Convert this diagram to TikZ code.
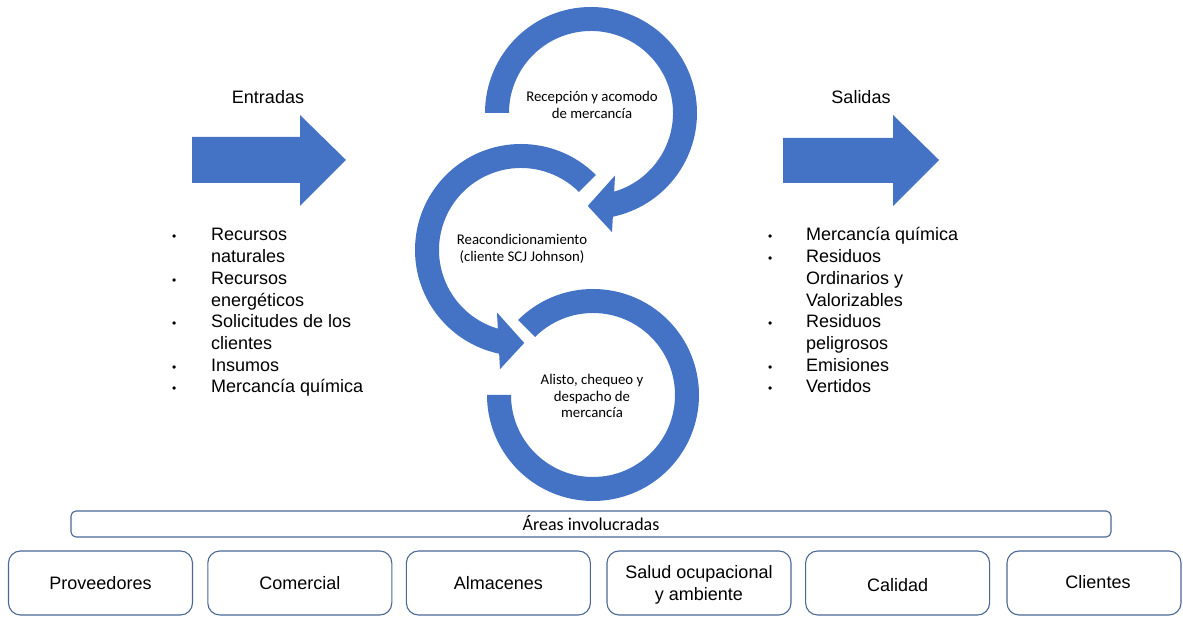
\documentclass[tikz,border=0pt]{standalone}
\usepackage{fontspec}
\usepackage{array}
\setmainfont{Liberation Sans}
\newfontfamily\calibrifont{Carlito}
\definecolor{flowblue}{HTML}{4472C4}
\definecolor{boxline}{HTML}{4A6894}
\newcommand{\listbullet}{{\fontsize{12}{12}\selectfont\textbullet}}

\tikzset{
  ring/.style={fill=flowblue},
  bigarrow/.style={fill=flowblue},
  heading/.style={font=\fontsize{18}{21.7}\selectfont, inner sep=0pt, anchor=base},
  listnode/.style={font=\fontsize{18}{21.7}\selectfont, inner sep=0pt, anchor=base west},
  steptext/.style={font=\calibrifont\fontsize{14.8}{16.5}\selectfont, align=center, inner sep=0pt},
  areabox/.style={draw=boxline, line width=1.1pt, rounded corners=5pt},
  deptbox/.style={draw=boxline, line width=1.1pt, rounded corners=12pt,
    minimum height=64pt, align=center, inner sep=0pt,
    font=\fontsize{18}{21.7}\selectfont},
  depttext/.style={align=center, inner sep=0pt, font=\fontsize{18}{21.7}\selectfont},
}

\begin{document}
\begin{tikzpicture}[x=1pt, y=1pt]
  \useasboundingbox (0,0) rectangle (1183,617);
  \fill[white] (0,0) rectangle (1183,617);

  % input and output block arrows
  \fill[bigarrow] (192,480) -- (300,480) -- (300,502) -- (346,457)
    -- (300,411) -- (300,434) -- (192,434) -- cycle;
  \fill[bigarrow] (783,479) -- (893,479) -- (893,502) -- (939,457)
    -- (893,411) -- (893,434) -- (783,434) -- cycle;

  \node[heading] (entradas) at (268,513) {Entradas};
  \node[heading] (salidas) at (861,513) {Salidas};

  \node[listnode] (inlist) at (172,376) {%
    \begin{tabular}[t]{@{}p{39pt}@{}l@{}}
      \listbullet & Recursos\\
                  & naturales\\
      \listbullet & Recursos\\
                  & energéticos\\
      \listbullet & Solicitudes de los\\
                  & clientes\\
      \listbullet & Insumos\\
      \listbullet & Mercancía química
    \end{tabular}};

  \node[listnode] (outlist) at (768,376) {%
    \begin{tabular}[t]{@{}p{38pt}@{}l@{}}
      \listbullet & Mercancía química\\
      \listbullet & Residuos\\
                  & Ordinarios y\\
                  & Valorizables\\
      \listbullet & Residuos\\
                  & peligrosos\\
      \listbullet & Emisiones\\
      \listbullet & Vertidos
    \end{tabular}};

  % circular process arrows
  \begin{scope}[shift={(591,504)}]
    \fill[ring] (180:106) arc[start angle=180, end angle=-78.1, radius=106]
      -- (-80:121) -- (-92:93) -- (-69:67) -- (-73.6:82)
      arc[start angle=-73.6, end angle=180, radius=82] -- cycle;
  \end{scope}
  \begin{scope}[shift={(521,367)}]
    \fill[ring] (45:106) arc[start angle=45, end angle=258.1, radius=106]
      -- (260:121) -- (272:93) -- (249:67) -- (253.6:82)
      arc[start angle=253.6, end angle=45, radius=82] -- cycle;
  \end{scope}
  \begin{scope}[shift={(593,222)}]
    \fill[ring] (135:106) arc[start angle=135, end angle=-180, radius=106]
      -- (-180:82) arc[start angle=-180, end angle=135, radius=82] -- cycle;
  \end{scope}

  \node[steptext] (recepcion) at (592,512) {Recepción y acomodo\\de mercancía};
  \node[steptext] (reacond) at (522,368) {Reacondicionamiento\\(cliente SCJ Johnson)};
  \node[steptext] (alisto) at (592,221) {Alisto, chequeo y\\despacho de\\mercancía};

  % involved areas
  \draw[areabox] (71,80) rectangle (1111,106);
  \node[font=\calibrifont\fontsize{18}{20}\selectfont, inner sep=0pt] (areas) at (591,94) {Áreas involucradas};

  \node[deptbox, minimum width=184pt] (prov) at (100.5,34) {Proveedores};
  \node[deptbox, minimum width=184pt] (comer) at (299.8,34) {Comercial};
  \node[deptbox, minimum width=184pt] (almac) at (498.4,34) {Almacenes};
  \node[deptbox, minimum width=184pt] (salud) at (699,34) {};
  \node[depttext] (saludtext) at (699,32) {Salud ocupacional\\y ambiente};
  \node[deptbox, minimum width=184pt] (calid) at (897.6,34) {};
  \node[depttext] (calidtext) at (897.6,32) {Calidad};
  \node[deptbox, minimum width=174pt] (clien) at (1094,34) {};
  \node[depttext] (clientext) at (1098,35) {Clientes};
\end{tikzpicture}
\end{document}
